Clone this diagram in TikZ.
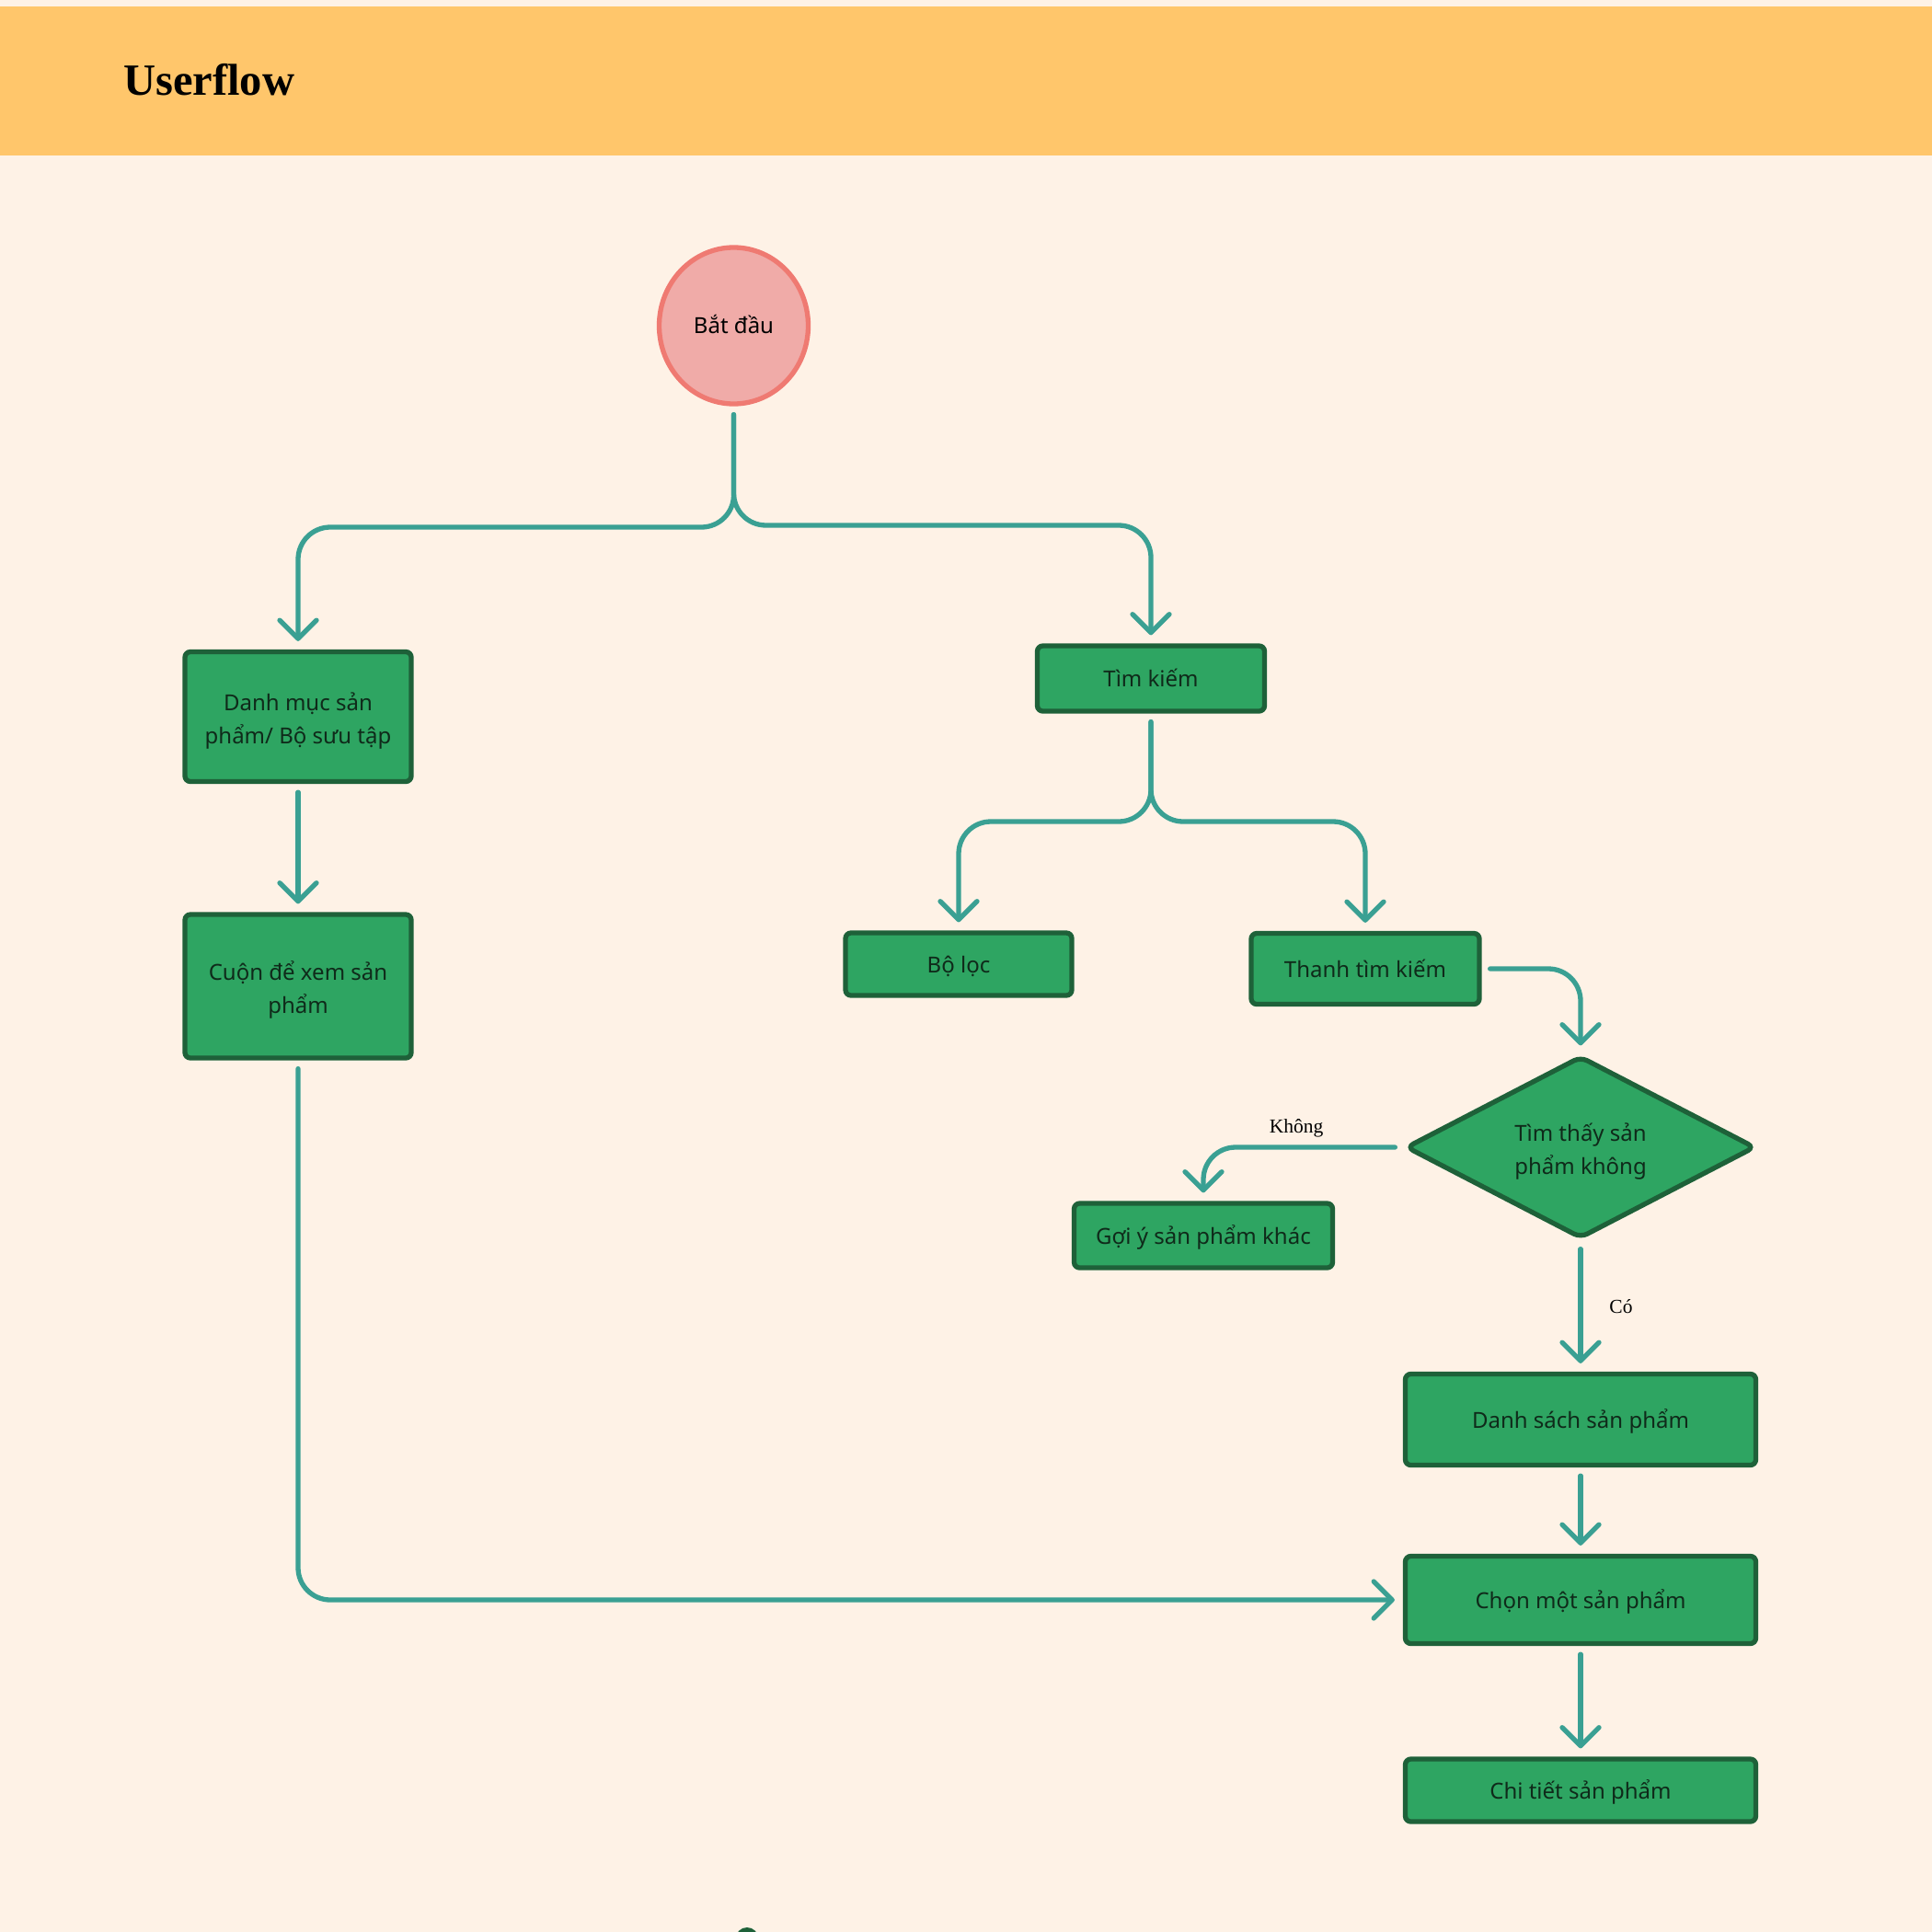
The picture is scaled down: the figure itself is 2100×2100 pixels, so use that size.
\documentclass[tikz,border=0pt]{standalone}
\usepackage{fontspec}
\setmainfont{Noto Sans}
\newfontfamily\serifttl{Liberation Serif}
\usetikzlibrary{arrows.meta,shapes.geometric}
\definecolor{bgc}{HTML}{FEF2E6}
\definecolor{headc}{HTML}{FFC66B}
\definecolor{tealc}{HTML}{3AA093}
\definecolor{boxfill}{HTML}{2EA562}
\definecolor{boxline}{HTML}{1E6139}
\definecolor{boxtext}{HTML}{0F2A1A}
\definecolor{circfill}{HTML}{F0ABA8}
\definecolor{circline}{HTML}{EF7A72}
\newcommand\dnshift[2][4pt]{\raisebox{-#1}[\height][\depth]{\begin{tabular}{@{}c@{}}#2\end{tabular}}}
\begin{document}
\begin{tikzpicture}[x=1pt,y=-1pt,
  conn/.style={draw=tealc, line width=5.3pt, line cap=round, line join=round,
    rounded corners=35pt, -{Straight Barb[length=20pt,width=40pt,round]},
    shorten >=9pt, shorten <=9pt},
  box/.style={draw=boxline, fill=boxfill, line width=5.3pt, rounded corners=6pt,
    text=boxtext, font=\fontsize{24}{36}\selectfont, align=center, inner sep=0pt},
  lbl/.style={font=\serifttl\fontsize{21.5}{24}\selectfont, text=black, inner sep=0pt}
]
\useasboundingbox (0,0) rectangle (2100,2100);
\fill[bgc] (0,0) rectangle (2100,2100);
\fill[headc] (0,7) rectangle (2100,169);
\node[anchor=base west, font=\serifttl\bfseries\fontsize{48.5}{50}\selectfont, inner sep=0pt] (title) at (134,104) {Userflow};

% nodes
\node[ellipse, draw=circline, fill=circfill, line width=5.3pt, minimum width=162pt, minimum height=170pt,
  font=\fontsize{24}{30}\selectfont, text=black, inner sep=0pt] (start) at (797.5,354) {\dnshift[2pt]{Bắt đầu}};
\node[box, minimum width=246pt, minimum height=141pt] (danhmuc) at (324,779) {\dnshift{Danh mục sản\\phẩm/ Bộ sưu tập}};
\node[box, minimum width=246pt, minimum height=156pt] (cuon) at (324,1072) {\dnshift{Cuộn để xem sản\\phẩm}};
\node[box, minimum width=247pt, minimum height=71pt] (timkiem) at (1251,737.5) {\dnshift[2pt]{Tìm kiếm}};
\node[box, minimum width=246pt, minimum height=68pt] (boloc) at (1042,1048) {\dnshift[2pt]{Bộ lọc}};
\node[box, minimum width=248pt, minimum height=77pt] (thanh) at (1484,1053) {\dnshift[2pt]{Thanh tìm kiếm}};
\node[diamond, aspect=2, draw=boxline, fill=boxfill, line width=5.3pt, rounded corners=8pt,
  minimum width=380pt, minimum height=198pt, text=boxtext,
  font=\fontsize{24}{36}\selectfont, align=center, inner sep=0pt] (dec) at (1718,1247) {\dnshift{Tìm thấy sản\\phẩm không}};
\node[box, minimum width=281pt, minimum height=70pt] (goiy) at (1308,1343) {\dnshift[2pt]{Gợi ý sản phẩm khác}};
\node[box, minimum width=381pt, minimum height=99pt] (danhsach) at (1718,1543) {\dnshift[2pt]{Danh sách sản phẩm}};
\node[box, minimum width=381pt, minimum height=95pt] (chon) at (1718,1739) {\dnshift[2pt]{Chọn một sản phẩm}};
\node[box, minimum width=381pt, minimum height=68pt] (chitiet) at (1718,1946) {\dnshift[2pt]{Chi tiết sản phẩm}};

% junction coordinates
\coordinate (j1) at (797.5,573);
\coordinate (j2) at (797.5,571);
\coordinate (j3) at (1251,893);

% connectors
\draw[conn] (start.south) -- (j1) -- (j1 -| danhmuc.north) -- (danhmuc.north);
\draw[conn] (start.south) -- (j2) -- (j2 -| timkiem.north) -- (timkiem.north);
\draw[conn] (danhmuc.south) -- (cuon.north);
\draw[conn] (timkiem.south) -- (j3) -- (j3 -| boloc.north) -- (boloc.north);
\draw[conn] (timkiem.south) -- (j3) -- (j3 -| thanh.north) -- (thanh.north);
\draw[conn] (thanh.east) -- (thanh.east -| dec.north) -- (dec.north);
\draw[conn] (dec.west) -- (dec.west -| goiy.north) -- (goiy.north);
\draw[conn] (dec.south) -- (danhsach.north);
\draw[conn] (danhsach.south) -- (chon.north);
\draw[conn] (chon.south) -- (chitiet.north);
\draw[conn] (cuon.south) -- (cuon.south |- chon.west) -- (chon.west);

% labels
\node[lbl] (khong) at (1409,1226) {Không};
\node[lbl] (co) at (1762,1420) {Có};

% partial dot at bottom edge
\begin{scope}
\clip (0,0) rectangle (2100,2100);
\fill[boxline] (812,2107.5) circle (12.5);
\end{scope}
\end{tikzpicture}
\end{document}
